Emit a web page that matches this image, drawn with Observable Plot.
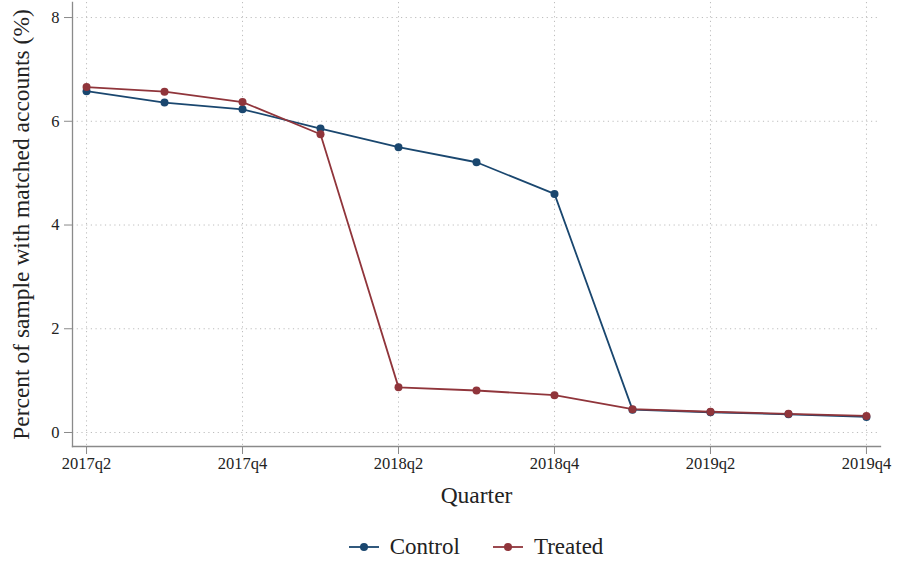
<!DOCTYPE html>
<html>
<head>
<meta charset="utf-8">
<script src="https://cdn.jsdelivr.net/npm/d3@7"></script>
<script src="https://cdn.jsdelivr.net/npm/@observablehq/plot@0.6"></script>
<style>
  body { margin: 0; background: #fff; font-family: "Liberation Serif", "DejaVu Serif", serif; }
  #legend { display: flex; justify-content: center; align-items: center; height: 45px; margin-top: 4px; font-size: 23px; color: #222; padding-left: 50px; }
  .item { display: flex; align-items: center; margin: 0 16px; }
  .item svg { margin-right: 10px; }
</style>
</head>
<body>
<div id="chart"></div>
<div id="legend"></div>
<script>
const quarters = ["2017q2","2017q3","2017q4","2018q1","2018q2","2018q3","2018q4","2019q1","2019q2","2019q3","2019q4"];
const control = [6.58, 6.36, 6.23, 5.86, 5.50, 5.21, 4.60, 0.44, 0.39, 0.35, 0.30];
const treated = [6.66, 6.57, 6.37, 5.75, 0.87, 0.81, 0.72, 0.45, 0.40, 0.36, 0.32];
const seriesNames = ["Control", "Treated"];
const seriesColors = ["#1a476f", "#90353b"];
const xTicks = [0, 2, 4, 6, 8, 10];
const yTicks = [0, 2, 4, 6, 8];

const rows = [];
[control, treated].forEach((vals, s) => vals.forEach((v, i) => rows.push({i, v, series: seriesNames[s]})));

const font = "Liberation Serif";
const chart = Plot.plot({
  width: 901, height: 520,
  marginLeft: 72, marginRight: 21, marginTop: 2, marginBottom: 74,
  style: {fontFamily: font, fontSize: "16.5px", color: "#222", background: "#fff"},
  x: {domain: [-0.18, 10.18]},
  y: {domain: [-0.27, 8.29]},
  color: {domain: seriesNames, range: seriesColors},
  marks: [
    Plot.gridX(xTicks, {stroke: "#bdbdbd", strokeOpacity: 1, strokeDasharray: "1.2,3.5"}),
    Plot.gridY(yTicks, {stroke: "#bdbdbd", strokeOpacity: 1, strokeDasharray: "1.2,3.5"}),
    Plot.frame({anchor: "left", stroke: "#8a8a8a", strokeWidth: 1.3}),
    Plot.frame({anchor: "bottom", stroke: "#8a8a8a", strokeWidth: 1.3}),
    Plot.axisX(xTicks, {tickFormat: i => quarters[i], tickSize: 8, tickPadding: 3, stroke: "#8a8a8a",
      label: "Quarter", labelAnchor: "center", labelOffset: 56, labelArrow: "none"}),
    Plot.axisY(yTicks, {tickFormat: d => String(d), tickSize: 8, tickPadding: 5, stroke: "#8a8a8a",
      label: "Percent of sample with matched accounts (%)", labelAnchor: "center", labelOffset: 60, labelArrow: "none"}),
    Plot.line(rows, {x: "i", y: "v", stroke: "series", strokeWidth: 1.8, z: "series"}),
    Plot.dot(rows, {x: "i", y: "v", fill: "series", r: 4})
  ]
});
document.getElementById("chart").appendChild(chart);
// enlarge axis titles
chart.querySelectorAll("[aria-label='x-axis label'] text, [aria-label='y-axis label'] text").forEach(t => t.setAttribute("font-size", "23.5px"));

const legend = document.getElementById("legend");
seriesNames.forEach((name, k) => {
  const item = document.createElement("div");
  item.className = "item";
  item.innerHTML = `<svg width="32" height="12"><line x1="1" y1="6" x2="31" y2="6" stroke="${seriesColors[k]}" stroke-width="1.8"/><circle cx="16" cy="6" r="4" fill="${seriesColors[k]}"/></svg><span>${name}</span>`;
  legend.appendChild(item);
});
</script>
</body>
</html>
